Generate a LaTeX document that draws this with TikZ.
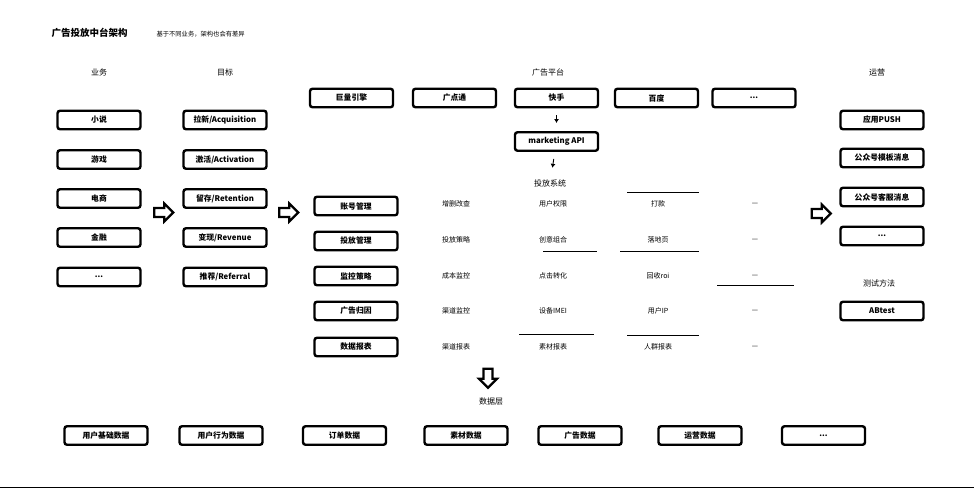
\documentclass[tikz,border=0pt]{standalone}
\usepackage{fontspec}
\setmainfont{Noto Sans CJK SC}
\usetikzlibrary{shapes.arrows,arrows.meta}
\tikzset{
  box/.style={draw,line width=2.4pt,rounded corners=2.5pt,fill=white,
    minimum width=83pt,minimum height=18.5pt,inner sep=0pt,
    font=\fontsize{7.8}{9}\selectfont\bfseries},
  head/.style={font=\fontsize{8}{9}\selectfont},
  cell/.style={font=\fontsize{7}{8}\selectfont},
  bigarrow/.style={single arrow,draw,line width=2.2pt,fill=white,
    minimum height=19pt,minimum width=18pt,inner sep=2pt,
    single arrow head extend=3pt},
  flow/.style={-{Latex[length=4pt,width=5pt]},line width=0.9pt,
    shorten <=7pt,shorten >=8pt},
  rule/.style={line width=0.8pt}
}
\begin{document}
\begin{tikzpicture}[x=1pt,y=-1pt]
\useasboundingbox (0,0) rectangle (974,488);
% titles
\node[anchor=west,font=\fontsize{9.5}{11}\selectfont\bfseries] (title) at (48,33) {广告投放中台架构};
\node[anchor=west,font=\fontsize{6.3}{7}\selectfont] (sub) at (153,34) {基于不同业务，架构也会有差异};
\node[head] (hbiz) at (99,72) {业务};
\node[head] (hgoal) at (225,72) {目标};
\node[head] (hplat) at (548,72) {广告平台};
\node[head] (hops) at (877,72) {运营};

% business
\node[box] (novel) at (99,120) {小说};
\node[box] (game) at (99,159.5) {游戏};
\node[box] (shop) at (99,198.5) {电商};
\node[box] (fin) at (99,237.5) {金融};
\node[box] (bizx) at (99,277) {...};

% goals
\node[box] (acq) at (225,120) {拉新/Acquisition};
\node[box] (act) at (225,159.5) {激活/Activation};
\node[box] (ret) at (225,198.5) {留存/Retention};
\node[box] (rev) at (225,237.5) {变现/Revenue};
\node[box] (ref) at (225,277) {推荐/Referral};

\node[bigarrow] (arrA) at (161.5,212.5) {};
\node[bigarrow] (arrB) at (286.5,212.5) {};
\node[bigarrow] (arrC) at (819,213.5) {};

% ad platforms
\node[box] (jl) at (351.5,98) {巨量引擎};
\node[box] (gdt) at (454.5,98) {广点通};
\node[box] (ks) at (556.5,98) {快手};
\node[box] (bd) at (656.5,98) {百度};
\node[box] (platx) at (754,98) {...};
\node[box] (mapi) at (556.5,141.5) {marketing API};
\node[head] (tfxt) at (550,183) {投放系统};
\draw[flow] (ks) -- (mapi);
\draw[flow] (mapi) -- (tfxt);

% delivery system
\node[box] (acct) at (356,206) {账号管理};
\node[box] (tfgl) at (356,241) {投放管理};
\node[box] (jk) at (356,276) {监控策略};
\node[box] (gy) at (356,311) {广告归因};
\node[box] (bb) at (356,347) {数据报表};

\node[cell] (c11) at (456,204) {增删改查};
\node[cell] (c12) at (553,204) {用户权限};
\node[cell] (c13) at (658,204) {打款};
\node[cell] (c14) at (755,204) {—};
\node[cell] (c21) at (456,240) {投放策略};
\node[cell] (c22) at (553,240) {创意组合};
\node[cell] (c23) at (658,240) {落地页};
\node[cell] (c24) at (755,240) {—};
\node[cell] (c31) at (456,276) {成本监控};
\node[cell] (c32) at (553,276) {点击转化};
\node[cell] (c33) at (658,276) {回收roi};
\node[cell] (c34) at (755,276) {—};
\node[cell] (c41) at (456,311) {渠道监控};
\node[cell] (c42) at (553,311) {设备IMEI};
\node[cell] (c43) at (658,311) {用户IP};
\node[cell] (c44) at (755,311) {—};
\node[cell] (c51) at (456,347) {渠道报表};
\node[cell] (c52) at (553,347) {素材报表};
\node[cell] (c53) at (658,347) {人群报表};
\node[cell] (c54) at (755,347) {—};

\draw[rule] (627,192) -- (699,192);
\draw[rule] (543,251) -- (597,251) (620,251) -- (699,251);
\draw[rule] (717,285) -- (794,285);
\draw[rule] (519,334) -- (594,334);
\draw[rule] (627,335) -- (699,335);

% operations
\node[box] (push) at (882,120) {应用PUSH};
\node[box] (gzh1) at (882,158) {公众号模板消息};
\node[box] (gzh2) at (882,197) {公众号客服消息};
\node[box] (opsx) at (882,236) {...};
\node[head] (test) at (879,283) {测试方法};
\node[box] (ab) at (882,311) {ABtest};

% data layer
\node[bigarrow,rotate=-90] (arrD) at (488,376) {};
\node[head] (data) at (491,401) {数据层};
\node[box] (d1) at (106,435.5) {用户基础数据};
\node[box] (d2) at (221,435.5) {用户行为数据};
\node[box] (d3) at (344.5,435.5) {订单数据};
\node[box] (d4) at (466,435.5) {素材数据};
\node[box] (d5) at (580,435.5) {广告数据};
\node[box] (d6) at (700,435.5) {运营数据};
\node[box] (d7) at (823.5,435.5) {...};

\draw[rule] (0,487) -- (974,487);
\end{tikzpicture}
\end{document}
